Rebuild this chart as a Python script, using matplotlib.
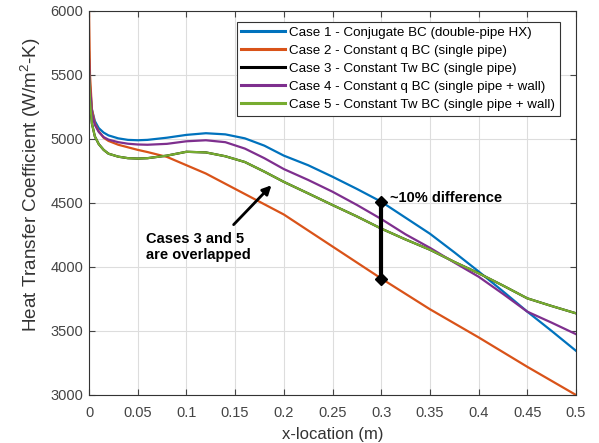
import numpy as np
from matplotlib import pyplot as plt

plt.rcParams['font.family'] = ['Liberation Sans', 'DejaVu Sans']
plt.rcParams['mathtext.default'] = 'regular'

# x-location (m) and heat transfer coefficient (W/m2-K)
x_loc = [0, 0.001, 0.003, 0.006, 0.01, 0.015, 0.02, 0.03, 0.04, 0.05, 0.06, 0.08,
         0.1, 0.12, 0.14, 0.16, 0.18, 0.2, 0.225, 0.25, 0.275, 0.3, 0.325, 0.35,
         0.375, 0.4, 0.425, 0.45, 0.475, 0.5]
case1 = [5680, 5420, 5230, 5140, 5085, 5050, 5028, 5005, 4993, 4990, 4993, 5010,
         5032, 5045, 5036, 5005, 4948, 4870, 4795, 4705, 4610, 4510, 4385, 4260,
         4115, 3965, 3810, 3651, 3500, 3345]
case2 = [6000, 5500, 5230, 5120, 5060, 5010, 4985, 4955, 4935, 4915, 4898, 4860,
         4795, 4730, 4650, 4570, 4490, 4410, 4285, 4160, 4035, 3910, 3790, 3670,
         3560, 3450, 3335, 3220, 3110, 3000]
case3 = [5530, 5300, 5120, 5020, 4960, 4915, 4885, 4862, 4850, 4847, 4850, 4870,
         4900, 4895, 4865, 4820, 4745, 4665, 4575, 4484, 4395, 4300, 4215, 4135,
         4040, 3951, 3855, 3755, 3695, 3638]
case4 = [5620, 5400, 5200, 5110, 5055, 5015, 4995, 4975, 4963, 4957, 4955, 4962,
         4982, 4990, 4975, 4925, 4850, 4765, 4680, 4588, 4485, 4375, 4255, 4150,
         4035, 3924, 3790, 3651, 3565, 3475]
case5 = [5530, 5300, 5120, 5020, 4960, 4915, 4885, 4862, 4850, 4847, 4850, 4870,
         4900, 4895, 4865, 4820, 4745, 4665, 4575, 4484, 4395, 4300, 4215, 4135,
         4040, 3951, 3855, 3755, 3695, 3638]

labels = ['Case 1 - Conjugate BC (double-pipe HX)',
          'Case 2 - Constant q BC (single pipe)',
          'Case 3 - Constant Tw BC (single pipe)',
          'Case 4 - Constant q BC (single pipe + wall)',
          'Case 5 - Constant Tw BC (single pipe + wall)']
colors = ['#0072BD', '#D95319', '#000000', '#7E2F8E', '#77AC30']

diff_x = 0.3
diff_y = [3910, 4510]

fig = plt.figure(figsize=(5.99, 4.43), dpi=100)
ax = fig.add_axes([0.1486, 0.1084, 0.8130, 0.8668])

for ys, lab, c in zip([case1, case2, case3, case4, case5], labels, colors):
    ax.plot(x_loc, ys, color=c, lw=1.6, label=lab)

# ~10% difference marker
ax.plot([diff_x, diff_x], diff_y, color='black', lw=3, marker='D', ms=6)
ax.text(0.309, 4540, '~10% difference', fontsize=10.5, fontweight='bold', va='center')

ax.annotate('', xy=(0.1893, 4654), xytext=(0.1465, 4315),
            arrowprops=dict(arrowstyle='-|>', color='black', lw=2, mutation_scale=13))
ax.text(0.0585, 4272, 'Cases 3 and 5\nare overlapped', fontsize=10.5, fontweight='bold',
        va='top', linespacing=1.2)

ax.set_xlim(0, 0.5)
ax.set_ylim(3000, 6000)
ax.set_xticks(np.arange(0, 0.51, 0.05))
ax.set_xticklabels(['0', '0.05', '0.1', '0.15', '0.2', '0.25', '0.3', '0.35', '0.4', '0.45', '0.5'])
ax.set_yticks(np.arange(3000, 6001, 500))
ax.grid(True, color='#dddddd', lw=0.8)
ax.set_axisbelow(True)
ax.tick_params(direction='in', top=True, right=True, labelsize=10.5, colors='#444444', length=4)
ax.tick_params(axis='x', pad=8)
ax.tick_params(axis='y', pad=4)
for s in ax.spines.values():
    s.set_color('#333333')

ax.set_xlabel('x-location (m)', fontsize=12, color='#333333', labelpad=5)
ax.set_ylabel('Heat Transfer Coefficient (W/m$^2$-K)', fontsize=13.6, color='#333333')
ax.yaxis.set_label_coords(-0.095, 0.547)

leg = ax.legend(loc='upper right', bbox_to_anchor=(0.967, 0.971), borderaxespad=0,
                fontsize=9.6, fancybox=False, framealpha=1, edgecolor='#333333',
                handlelength=3.3, labelspacing=0.42, handletextpad=0.3, borderpad=0.35)
leg.get_frame().set_linewidth(0.8)
for line in leg.get_lines():
    line.set_linewidth(2.2)

fig.savefig('out.png', dpi=100)
